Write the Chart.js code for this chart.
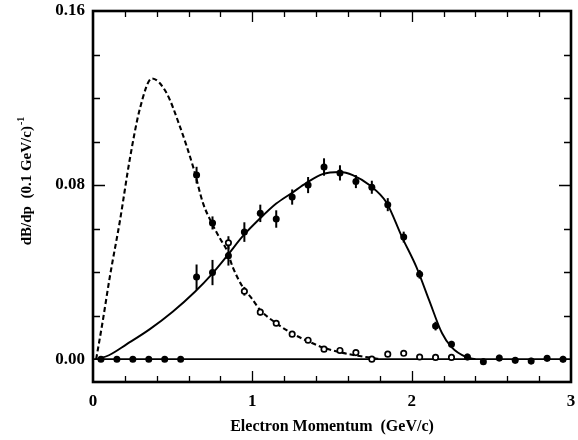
<!DOCTYPE html>
<html><head><meta charset="utf-8">
<script src="https://cdn.jsdelivr.net/npm/chart.js@4/dist/chart.umd.min.js"></script>
<style>html,body{margin:0;padding:0;background:#fff}canvas{display:block}</style>
</head><body>
<canvas id="c" width="578" height="440"></canvas>
<script>
// ---- data ----
const momentum = [0.05,0.15,0.25,0.35,0.45,0.55,0.65,0.75,0.85,0.95,1.05,1.15,1.25,1.35,1.45,1.55,1.65,1.75,1.85,1.95,2.05,2.15,2.25,2.35,2.45,2.55,2.65,2.75,2.85,2.95];
const primaryRate = [0,0,0,0,0,0,0.0377,0.0398,0.0475,0.0584,0.0670,0.0644,0.0745,0.0800,0.0883,0.0856,0.0816,0.0790,0.0710,0.0561,0.0390,0.0152,0.0069,0.0010,-0.0012,0.0005,-0.0005,-0.0009,0.0004,0.0000];
const primaryErr = [0,0,0,0,0,0,0.0058,0.0058,0.0045,0.0045,0.0040,0.0040,0.0035,0.0037,0.0040,0.0035,0.0030,0.0030,0.0030,0.0025,0.0020,0.0020,0.0015,0.0015,0.0015,0.0015,0.0015,0.0015,0.0015,0.0015];
const secondaryMomentum = [0.65,0.75,0.85,0.95,1.05,1.15,1.25,1.35,1.45,1.55,1.65,1.75,1.85,1.95,2.05,2.15,2.25];
const secondaryRate = [0.0846,0.0626,0.0535,0.0312,0.0216,0.0165,0.0115,0.0087,0.0046,0.0040,0.0030,0.0000,0.0023,0.0027,0.0010,0.0008,0.0008];
const secondaryErr = [0.0038,0.0030,0.0030,0.0020,0.0015,0.0010,0.0010,0.0010,0.0010,0.0010,0.0010,0.0010,0.0010,0.0010,0.0010,0.0010,0.0010];
const primaryFitX = [0.03,0.10,0.21,0.357,0.50,0.64,0.745,0.845,0.94,1.046,1.15,1.25,1.34,1.44,1.55,1.63,1.735,1.84,1.94,2.03,2.11,2.19,2.25,2.34,2.40];
const primaryFitY = [0,0.0018,0.0068,0.0138,0.0218,0.0310,0.0390,0.0478,0.0565,0.0645,0.0715,0.0765,0.0810,0.0850,0.0860,0.0846,0.0800,0.0722,0.0560,0.0423,0.0270,0.0120,0.0055,0.0010,0];
const secondaryFitX = [0.02,0.06,0.106,0.17,0.23,0.294,0.37,0.46,0.545,0.63,0.69,0.745,0.795,0.84,0.877,0.933,0.995,1.05,1.15,1.25,1.35,1.45,1.55,1.65,1.75,1.80];
const secondaryFitY = [0,0.0170,0.0380,0.0640,0.0915,0.1150,0.1290,0.1225,0.1070,0.0880,0.0718,0.0626,0.0557,0.0500,0.0423,0.0340,0.0280,0.0225,0.0165,0.0118,0.0082,0.0052,0.0032,0.0017,0.0006,0];
const xTickLabels = [0,1,2,3];
const yTickLabels = [0,0.08,0.16];
const xTitle = 'Electron Momentum  (GeV/c)';
const yTitle = 'dB/dp  (0.1 GeV/c)';
const yTitleSup = '-1';

const toPts = (xs, ys) => xs.map((x, i) => ({x, y: ys[i]}));
const SERIF = '"Liberation Serif", "Times New Roman", serif';

const decor = {
  id: 'decor',
  beforeDatasetsDraw(chart) {
    const {ctx, chartArea: a, scales: {x, y}} = chart;
    ctx.save();
    ctx.strokeStyle = '#000';
    // zero line
    ctx.lineWidth = 1.8;
    const y0 = y.getPixelForValue(0);
    ctx.beginPath(); ctx.moveTo(a.left, y0); ctx.lineTo(a.right, y0); ctx.stroke();
    // error bars
    ctx.lineWidth = 2;
    const errs = [primaryErr, secondaryErr];
    [0, 1].forEach(di => {
      const ds = chart.data.datasets[di];
      ds.data.forEach((p, i) => {
        const e = errs[di][i];
        if (!e) return;
        const px = x.getPixelForValue(p.x);
        ctx.beginPath();
        ctx.moveTo(px, y.getPixelForValue(p.y - e));
        ctx.lineTo(px, y.getPixelForValue(p.y + e));
        ctx.stroke();
      });
    });
    ctx.restore();
  },
  afterDraw(chart) {
    const {ctx, chartArea: a, scales: {x, y}} = chart;
    ctx.save();
    ctx.strokeStyle = '#000';
    ctx.lineWidth = 1.3;
    // x ticks (inward, bottom and top)
    for (let k = 1; k < 15; k++) {
      const v = k * 0.2;
      const px = Math.round(x.getPixelForValue(v)) + 0.5;
      const major = Math.abs(v - Math.round(v)) < 1e-6;
      const len = major ? 11 : 6;
      ctx.beginPath();
      ctx.moveTo(px, a.bottom); ctx.lineTo(px, a.bottom - len);
      ctx.moveTo(px, a.top); ctx.lineTo(px, a.top + len);
      ctx.stroke();
    }
    // y ticks (inward, left and right)
    for (let k = 1; k < 8; k++) {
      const v = k * 0.02;
      const py = Math.round(y.getPixelForValue(v)) + 0.5;
      const major = (k % 4 === 0);
      const len = major ? 12 : 7;
      ctx.beginPath();
      ctx.moveTo(a.left, py); ctx.lineTo(a.left + len, py);
      ctx.moveTo(a.right, py); ctx.lineTo(a.right - len, py);
      ctx.stroke();
    }
    // frame
    ctx.lineWidth = 2.6;
    ctx.strokeRect(a.left, a.top, a.right - a.left, a.bottom - a.top);
    // y title (rotated, with superscript)
    ctx.fillStyle = '#000';
    ctx.translate(27, 181);
    ctx.rotate(-Math.PI / 2);
    ctx.font = 'bold 15px ' + SERIF;
    const w1 = ctx.measureText(yTitle).width;
    ctx.font = 'bold 10px ' + SERIF;
    const w2 = ctx.measureText(yTitleSup).width;
    const total = w1 + w2 + 1;
    ctx.textBaseline = 'middle';
    ctx.textAlign = 'left';
    ctx.font = 'bold 15px ' + SERIF;
    ctx.fillText(yTitle, -total / 2, 0);
    ctx.font = 'bold 10px ' + SERIF;
    ctx.fillText(yTitleSup, -total / 2 + w1 + 1, -6);
    ctx.restore();
  }
};

new Chart(document.getElementById('c'), {
  type: 'scatter',
  data: {
    datasets: [
      {
        label: 'primary',
        data: toPts(momentum, primaryRate),
        pointRadius: 3.5,
        pointBackgroundColor: '#000',
        pointBorderColor: '#000',
        pointBorderWidth: 0,
        showLine: false
      },
      {
        label: 'secondary',
        data: toPts(secondaryMomentum, secondaryRate),
        pointRadius: 2.7,
        pointBackgroundColor: c => (c.raw && c.raw.y > 0.06) ? '#000' : '#fff',
        pointBorderColor: '#000',
        pointBorderWidth: 1.7,
        showLine: false
      },
      {
        label: 'primary fit',
        data: toPts(primaryFitX, primaryFitY),
        showLine: true,
        pointRadius: 0,
        borderColor: '#000',
        borderWidth: 1.9,
        cubicInterpolationMode: 'monotone',
        fill: false
      },
      {
        label: 'secondary fit',
        data: toPts(secondaryFitX, secondaryFitY),
        showLine: true,
        pointRadius: 0,
        borderColor: '#000',
        borderWidth: 2.1,
        borderDash: [5, 3],
        cubicInterpolationMode: 'monotone',
        fill: false
      }
    ]
  },
  options: {
    responsive: false,
    animation: false,
    devicePixelRatio: 1,
    layout: {padding: {left: 0, right: 7, top: 11, bottom: 0}},
    plugins: {legend: {display: false}, tooltip: {enabled: false}},
    scales: {
      x: {
        type: 'linear', min: 0, max: 3,
        grid: {display: false, drawTicks: false},
        border: {display: false},
        afterBuildTicks: s => { s.ticks = xTickLabels.map(v => ({value: v})); },
        afterFit: s => { s.height = 58; s.paddingLeft = 0; s.paddingRight = 0; },
        ticks: {
          color: '#000', padding: 9, maxRotation: 0,
          font: {family: SERIF, size: 17, weight: 'bold'},
          callback: v => String(v)
        },
        title: {
          display: true, text: xTitle, color: '#000',
          font: {family: SERIF, size: 16, weight: 'bold'},
          padding: {top: 0, bottom: 4}
        }
      },
      y: {
        type: 'linear', min: -0.0105, max: 0.16,
        grid: {display: false, drawTicks: false},
        border: {display: false},
        afterBuildTicks: s => { s.ticks = yTickLabels.map(v => ({value: v})); },
        afterFit: s => { s.width = 93; s.paddingTop = 0; s.paddingBottom = 0; },
        ticks: {
          color: '#000', padding: 8,
          font: {family: SERIF, size: 17, weight: 'bold'},
          callback: v => Number(v).toFixed(2)
        }
      }
    }
  },
  plugins: [decor]
});
</script>
</body></html>
